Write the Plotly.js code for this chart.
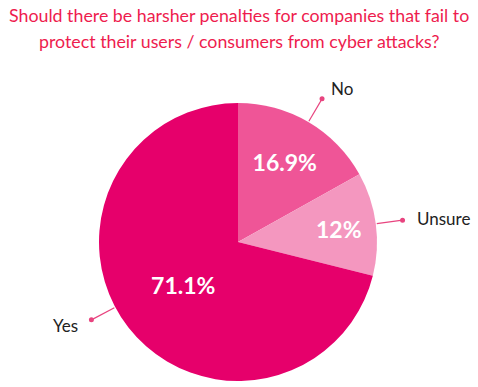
<!DOCTYPE html>
<html>
<head>
<meta charset="utf-8">
<script src="https://cdn.plot.ly/plotly-3.0.1.min.js"></script>
<style>html,body{margin:0;padding:0;background:#fff;}#chart{width:478px;height:387px;}</style>
</head>
<body>
<div id="chart"></div>
<script>
// ---- data ----
const categories = ["No", "Unsure", "Yes"];
const values = [16.9, 12, 71.1];
const sliceColors = ["#ef5597", "#f497bf", "#e6006b"];
const titleLines = [
  "Should there be harsher penalties for companies that fail to",
  "protect their users / consumers from cyber attacks?"
];

// ---- layout constants (style) ----
const W = 478, H = 387;
const domX = [0.2071, 0.7887];
const domY = [0.0155, 0.7339];
const leaderNudgeDeg = [0, 0, 10];
const leaderColor = "#e8447f";
const font = "Lato, 'Open Sans', sans-serif";

const cx = (domX[0] + domX[1]) / 2 * W;
const cyFromBottom = (domY[0] + domY[1]) / 2 * H;
const R = Math.min(W * (domX[1] - domX[0]), H * (domY[1] - domY[0])) / 2;

const total = values.reduce((a, b) => a + b, 0);
const shapes = [];
const annotations = [];
let cum = 0;
values.forEach((v, i) => {
  const midDeg = (cum + v / 2) / total * 360 + leaderNudgeDeg[i];
  cum += v;
  const th = midDeg * Math.PI / 180;
  const sx = Math.sin(th), sy = Math.cos(th); // y up
  const p = (r) => [(cx + sx * r) / W, (cyFromBottom + sy * r) / H];
  const a = p(R + 1), b = p(R + 27);
  shapes.push({type: "line", xref: "paper", yref: "paper", x0: a[0], y0: a[1], x1: b[0], y1: b[1],
    line: {color: leaderColor, width: 1.2}});
  shapes.push({type: "circle", xref: "paper", yref: "paper", xsizemode: "pixel", ysizemode: "pixel",
    xanchor: b[0], yanchor: b[1], x0: -2.5, x1: 2.5, y0: -2.5, y1: 2.5,
    fillcolor: leaderColor, line: {width: 0}});
  annotations.push({xref: "paper", yref: "paper", x: b[0], y: b[1], showarrow: false,
    text: categories[i], xanchor: sx >= 0 ? "left" : "right", yanchor: "middle",
    xshift: sx * 13, yshift: sy * 12,
    font: {family: font, size: 17, color: "#222"}});
});

titleLines.forEach((t, i) => {
  annotations.push({xref: "paper", yref: "paper", x: 0.5, y: 1, xanchor: "center", yanchor: "middle",
    yshift: -(15 + i * 26), showarrow: false, text: t,
    font: {family: font, size: 17.8, color: "#ee1c4e"}});
});

const trace = {
  type: "pie",
  labels: categories,
  values: values,
  sort: false,
  direction: "clockwise",
  rotation: 0,
  marker: {colors: sliceColors, line: {width: 0}},
  texttemplate: "%{value}%",
  textposition: "inside",
  insidetextorientation: "horizontal",
  insidetextfont: {family: font, size: 23, color: "#ffffff", weight: "bold"},
  hoverinfo: "label+value",
  domain: {x: domX, y: domY},
  showlegend: false
};

const layout = {
  width: W, height: H,
  margin: {l: 0, r: 0, t: 0, b: 0},
  paper_bgcolor: "#ffffff",
  shapes: shapes,
  annotations: annotations,
  showlegend: false
};

Plotly.newPlot("chart", [trace], layout, {displayModeBar: false, staticPlot: true});
</script>
</body>
</html>
